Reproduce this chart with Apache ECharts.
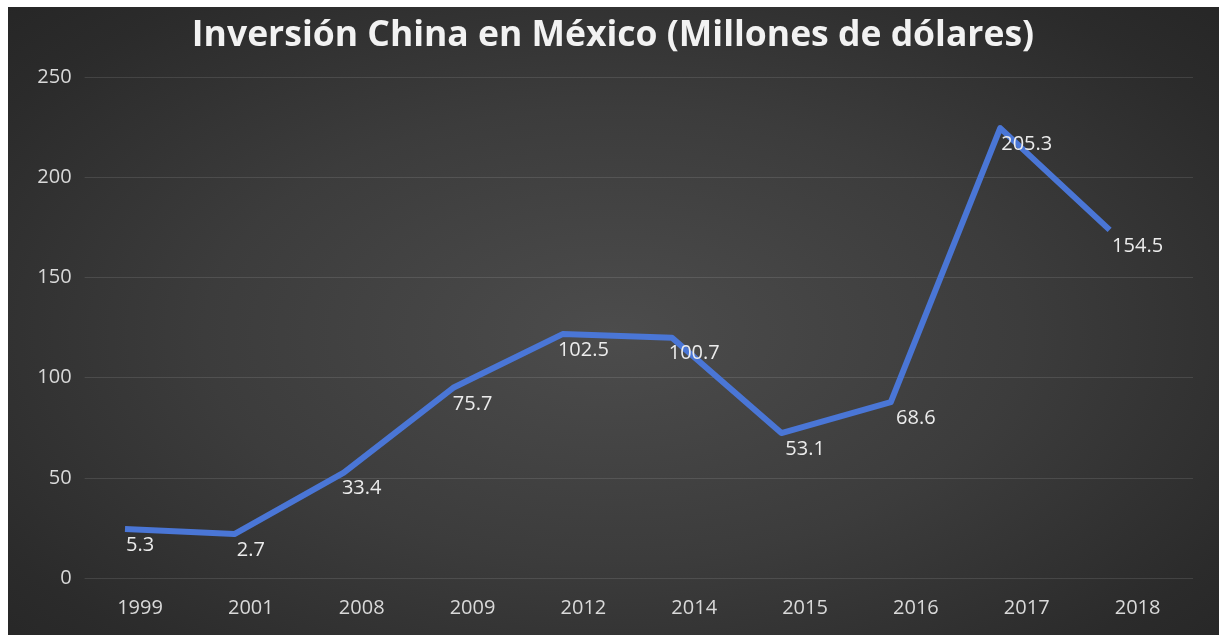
<!DOCTYPE html>
<html>
<head>
<meta charset="utf-8">
<script src="https://cdn.jsdelivr.net/npm/echarts@6/dist/echarts.min.js"></script>
<style>
  html, body { margin: 0; padding: 0; background: #ffffff; }
  #wrap { position: relative; width: 1226px; height: 635px; background: #ffffff; overflow: hidden; }
  #bg { position: absolute; left: 8px; top: 7px; width: 1211px; height: 628px;
        background: radial-gradient(ellipse 75% 80% at 50% 52%, #4c4c4c 0%, #3c3c3c 45%, #2b2b2b 80%, #242424 100%); }
  #chart { position: absolute; left: 0; top: 0; width: 1226px; height: 635px; }
</style>
</head>
<body>
<div id="wrap">
  <div id="bg"></div>
  <div id="chart"></div>
</div>
<script>
const titleText = 'Inversión China en México (Millones de dólares)';
const categories = ['1999', '2001', '2008', '2009', '2012', '2014', '2015', '2016', '2017', '2018'];
const values = [5.3, 2.7, 33.4, 75.7, 102.5, 100.7, 53.1, 68.6, 205.3, 154.5];
const yTicks = { min: 0, max: 250, interval: 50 };

const chart = echarts.init(document.getElementById('chart'), null, { renderer: 'canvas' });
const font = '"Open Sans", "DejaVu Sans", sans-serif';

chart.setOption({
  backgroundColor: 'transparent',
  animation: false,
  title: {
    text: titleText,
    left: 'center',
    top: 13,
    textStyle: { color: '#f2f2f2', fontFamily: font, fontWeight: 'bold', fontSize: 35.5 }
  },
  grid: [
    { left: 84.6, right: 33, top: 77, bottom: 57 },
    { left: 70.3, width: 1094, top: 38.5, bottom: 95.5 }
  ],
  xAxis: [
    {
      type: 'category', gridIndex: 0, data: categories, boundaryGap: true,
      axisLine: { show: false }, axisTick: { show: false },
      axisLabel: { color: '#d9d9d9', fontFamily: font, fontSize: 20, margin: 20 }
    },
    {
      type: 'category', gridIndex: 1, data: categories, boundaryGap: true, show: false
    }
  ],
  yAxis: [
    {
      type: 'value', gridIndex: 0, min: yTicks.min, max: yTicks.max, interval: yTicks.interval,
      axisLine: { show: false }, axisTick: { show: false },
      axisLabel: { color: '#d9d9d9', fontFamily: font, fontSize: 20, margin: 13 },
      splitLine: { lineStyle: { color: 'rgba(255,255,255,0.11)', width: 1 } }
    },
    {
      type: 'value', gridIndex: 1, min: yTicks.min, max: yTicks.max, interval: yTicks.interval, show: false
    }
  ],
  series: [
    {
      name: 'Inversión (línea)',
      type: 'line', xAxisIndex: 1, yAxisIndex: 1, data: values,
      symbol: 'none', clip: false,
      lineStyle: { color: '#4a76d6', width: 6, join: 'round' },
      z: 3
    },
    {
      name: 'Inversión (etiquetas)',
      type: 'line', xAxisIndex: 0, yAxisIndex: 0, data: values,
      symbol: 'circle', symbolSize: 1, showSymbol: true,
      itemStyle: { color: 'rgba(0,0,0,0)' },
      lineStyle: { opacity: 0, width: 0 },
      label: {
        show: true, position: 'top', distance: 12,
        color: '#ececec', fontFamily: font, fontSize: 20,
        formatter: p => p.value.toFixed(1)
      },
      z: 4
    }
  ]
});
</script>
</body>
</html>
